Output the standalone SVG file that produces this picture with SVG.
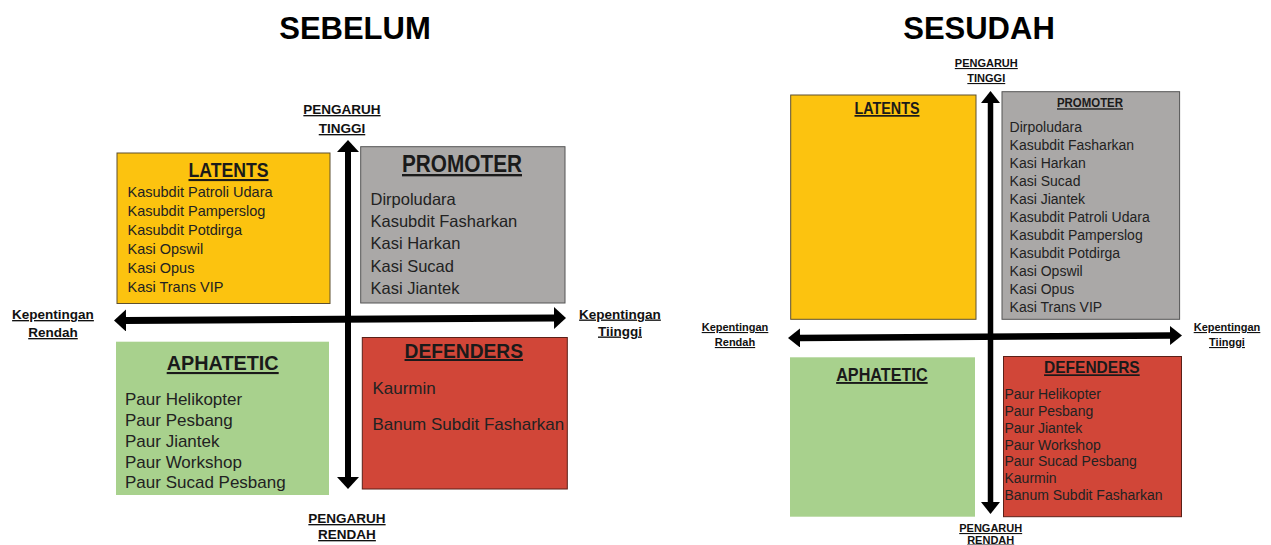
<svg xmlns="http://www.w3.org/2000/svg" width="1271" height="545" viewBox="0 0 1271 545">
<style>
.title{font-family:"Liberation Sans",Arial,sans-serif;font-weight:bold;font-size:31px;fill:#000;text-anchor:middle}
.ax{font-family:"Liberation Sans",Arial,sans-serif;font-weight:bold;font-size:13.5px;fill:#111;text-anchor:middle;text-decoration:underline}
.ax2{font-family:"Liberation Sans",Arial,sans-serif;font-weight:bold;font-size:11px;fill:#111;text-anchor:middle;text-decoration:underline}
.hd{font-family:"Liberation Sans",Arial,sans-serif;font-weight:bold;fill:#1a1a1a;text-anchor:middle;text-decoration:underline}
.it{font-family:"Liberation Sans",Arial,sans-serif;fill:#222}
.yel{fill:#FCC30F;stroke:#5e5030;stroke-width:1}
.gry{fill:#AAA8A7;stroke:#555;stroke-width:1}
.grn{fill:#A8D18D}
.red{fill:#D14638;stroke:#5a2018;stroke-width:1}
.shaft{stroke:#000;fill:none}
</style>
<defs>
<marker id="hA" markerUnits="userSpaceOnUse" viewBox="0 0 12 22" markerWidth="12" markerHeight="22" refX="1" refY="11" orient="auto-start-reverse">
<path d="M0,0 L12,11 L0,22 z" fill="#000"/>
</marker>
<marker id="hB" markerUnits="userSpaceOnUse" viewBox="0 0 12 19" markerWidth="12" markerHeight="19" refX="1" refY="9.5" orient="auto-start-reverse">
<path d="M0,0 L12,9.5 L0,19 z" fill="#000"/>
</marker>
</defs>
<rect width="1271" height="545" fill="#fff"/>

<text class="title" x="355" y="39">SEBELUM</text>
<text class="title" x="979" y="39">SESUDAH</text>

<g id="connectors">
<line class="shaft" x1="348" y1="151" x2="348" y2="478" stroke-width="6" marker-start="url(#hA)" marker-end="url(#hA)"/>
<line class="shaft" x1="125" y1="320.5" x2="555" y2="318" stroke-width="7" marker-start="url(#hA)" marker-end="url(#hA)"/>
<line class="shaft" x1="990.5" y1="102" x2="990.5" y2="503" stroke-width="5.5" marker-start="url(#hB)" marker-end="url(#hB)"/>
<line class="shaft" x1="799" y1="338" x2="1171" y2="335.5" stroke-width="6.5" marker-start="url(#hB)" marker-end="url(#hB)"/>
</g>

<g id="axis-labels-before">
<text class="ax" x="342" y="114">PENGARUH</text>
<text class="ax" x="342" y="133">TINGGI</text>
<text class="ax" x="347" y="523">PENGARUH</text>
<text class="ax" x="347" y="539">RENDAH</text>
<text class="ax" x="53" y="319">Kepentingan</text>
<text class="ax" x="53" y="337">Rendah</text>
<text class="ax" x="620" y="318.5">Kepentingan</text>
<text class="ax" x="620" y="335.5">Tiinggi</text>
</g>

<g id="axis-labels-after">
<text class="ax2" x="986.3" y="67">PENGARUH</text>
<text class="ax2" x="986.3" y="82">TINGGI</text>
<text class="ax2" x="990.7" y="532">PENGARUH</text>
<text class="ax2" x="990.7" y="543.5">RENDAH</text>
<text class="ax2" x="735" y="331">Kepentingan</text>
<text class="ax2" x="735" y="346">Rendah</text>
<text class="ax2" x="1227" y="331">Kepentingan</text>
<text class="ax2" x="1227" y="346">Tiinggi</text>
</g>

<g id="latents-before">
<rect class="yel" x="117" y="153" width="213" height="150.5"/>
<text class="hd" x="228.5" y="177" font-size="21" textLength="80" lengthAdjust="spacingAndGlyphs">LATENTS</text>
<text class="it" font-size="14.5">
<tspan x="127.5" y="196.7">Kasubdit Patroli Udara</tspan>
<tspan x="127.5" y="215.8">Kasubdit Pamperslog</tspan>
<tspan x="127.5" y="234.9">Kasubdit Potdirga</tspan>
<tspan x="127.5" y="254">Kasi Opswil</tspan>
<tspan x="127.5" y="273.1">Kasi Opus</tspan>
<tspan x="127.5" y="292.2">Kasi Trans VIP</tspan>
</text>
</g>

<g id="promoter-before">
<rect class="gry" x="360.7" y="146.7" width="204.3" height="156.3"/>
<text class="hd" x="462" y="172" font-size="23.5" textLength="120" lengthAdjust="spacingAndGlyphs">PROMOTER</text>
<text class="it" font-size="16.5">
<tspan x="370.5" y="205.3">Dirpoludara</tspan>
<tspan x="370.5" y="227">Kasubdit Fasharkan</tspan>
<tspan x="370.5" y="249.3">Kasi Harkan</tspan>
<tspan x="370.5" y="271.7">Kasi Sucad</tspan>
<tspan x="370.5" y="293.7">Kasi Jiantek</tspan>
</text>
</g>

<g id="aphatetic-before">
<rect class="grn" x="116" y="341.7" width="213" height="153.3"/>
<text class="hd" x="222.7" y="370" font-size="21" textLength="112" lengthAdjust="spacingAndGlyphs">APHATETIC</text>
<text class="it" font-size="17">
<tspan x="125" y="405">Paur Helikopter</tspan>
<tspan x="125" y="426">Paur Pesbang</tspan>
<tspan x="125" y="446.7">Paur Jiantek</tspan>
<tspan x="125" y="467.7">Paur Workshop</tspan>
<tspan x="125" y="488.3">Paur Sucad Pesbang</tspan>
</text>
</g>

<g id="defenders-before">
<rect class="red" x="362.3" y="337.5" width="205" height="151.5"/>
<text class="hd" x="463.8" y="358" font-size="20" textLength="118.5" lengthAdjust="spacingAndGlyphs">DEFENDERS</text>
<text class="it" font-size="17" fill="#2a0c08">
<tspan x="372.4" y="394.3">Kaurmin</tspan>
<tspan x="372.4" y="430">Banum Subdit Fasharkan</tspan>
</text>
</g>

<g id="latents-after">
<rect class="yel" x="790.7" y="95" width="185.3" height="224.3"/>
<text class="hd" x="887" y="114" font-size="17" textLength="65" lengthAdjust="spacingAndGlyphs">LATENTS</text>
</g>

<g id="promoter-after">
<rect class="gry" x="1002" y="91.7" width="177.6" height="227.6"/>
<text class="hd" x="1090" y="107.3" font-size="13.5" textLength="66" lengthAdjust="spacingAndGlyphs">PROMOTER</text>
<text class="it" font-size="14">
<tspan x="1009.6" y="132.3">Dirpoludara</tspan>
<tspan x="1009.6" y="150.2">Kasubdit Fasharkan</tspan>
<tspan x="1009.6" y="168.2">Kasi Harkan</tspan>
<tspan x="1009.6" y="186.1">Kasi Sucad</tspan>
<tspan x="1009.6" y="204.1">Kasi Jiantek</tspan>
<tspan x="1009.6" y="222">Kasubdit Patroli Udara</tspan>
<tspan x="1009.6" y="240">Kasubdit Pamperslog</tspan>
<tspan x="1009.6" y="257.9">Kasubdit Potdirga</tspan>
<tspan x="1009.6" y="275.8">Kasi Opswil</tspan>
<tspan x="1009.6" y="293.8">Kasi Opus</tspan>
<tspan x="1009.6" y="311.7">Kasi Trans VIP</tspan>
</text>
</g>

<g id="aphatetic-after">
<rect class="grn" x="790" y="357.3" width="185" height="159.4"/>
<text class="hd" x="881.9" y="381" font-size="19" textLength="91.5" lengthAdjust="spacingAndGlyphs">APHATETIC</text>
</g>

<g id="defenders-after">
<rect class="red" x="1003.5" y="356.5" width="178" height="160.2"/>
<text class="hd" x="1091.9" y="373.3" font-size="17" textLength="95.6" lengthAdjust="spacingAndGlyphs">DEFENDERS</text>
<text class="it" font-size="14" fill="#2a0c08">
<tspan x="1004.5" y="399">Paur Helikopter</tspan>
<tspan x="1004.5" y="415.8">Paur Pesbang</tspan>
<tspan x="1004.5" y="432.7">Paur Jiantek</tspan>
<tspan x="1004.5" y="449.5">Paur Workshop</tspan>
<tspan x="1004.5" y="466.3">Paur Sucad Pesbang</tspan>
<tspan x="1004.5" y="483.2">Kaurmin</tspan>
<tspan x="1004.5" y="500">Banum Subdit Fasharkan</tspan>
</text>
</g>
</svg>
